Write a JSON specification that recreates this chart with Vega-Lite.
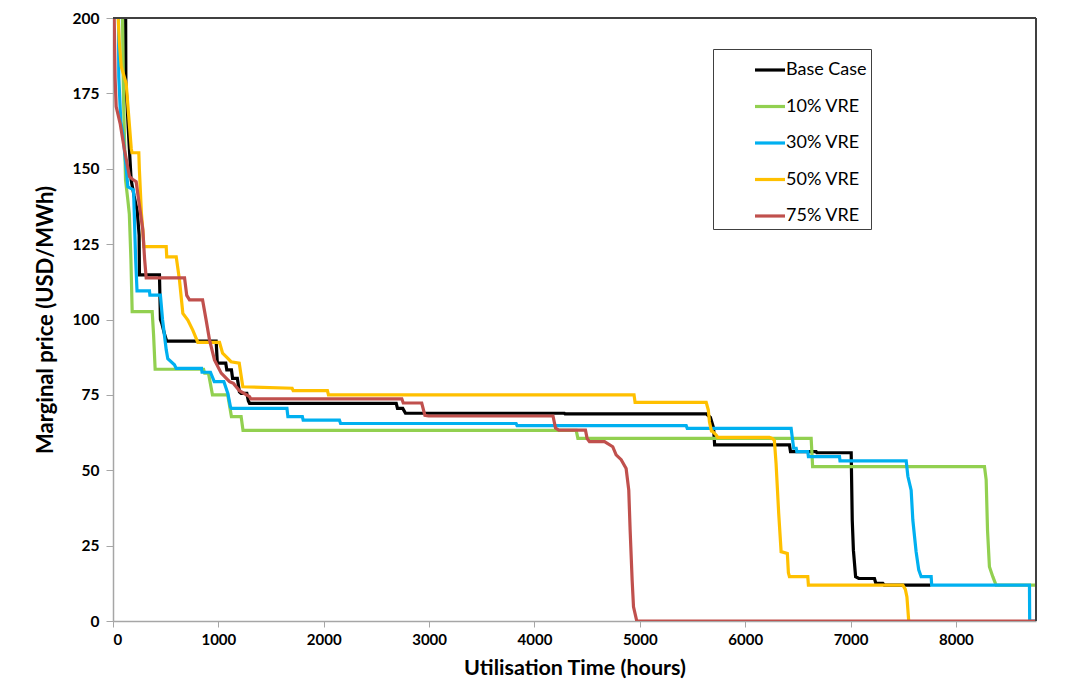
{
"$schema": "https://vega.github.io/schema/vega-lite/v6.json",
"width": 923, "height": 603,
"autosize": "none",
"padding": {"left": 113, "top": 18, "right": 30, "bottom": 63},
"background": "white",
"config": {"view": {"stroke": null}, "font": "Lato"},
"data": {"values": [
{"s":"Base Case","h":0,"p":300},{"s":"Base Case","h":120,"p":201},{"s":"Base Case","h":122,"p":179},{"s":"Base Case","h":150,"p":160},{"s":"Base Case","h":172,"p":146.3},{"s":"Base Case","h":200,"p":141},{"s":"Base Case","h":230,"p":136},{"s":"Base Case","h":248,"p":128},{"s":"Base Case","h":251,"p":114.8},{"s":"Base Case","h":441,"p":114.8},{"s":"Base Case","h":450,"p":100},{"s":"Base Case","h":465,"p":98.5},{"s":"Base Case","h":490,"p":95},{"s":"Base Case","h":510,"p":92.8},{"s":"Base Case","h":979,"p":92.8},{"s":"Base Case","h":990,"p":85.5},{"s":"Base Case","h":1070,"p":85.5},{"s":"Base Case","h":1080,"p":83.3},{"s":"Base Case","h":1124,"p":83.3},{"s":"Base Case","h":1135,"p":80.5},{"s":"Base Case","h":1180,"p":80.5},{"s":"Base Case","h":1200,"p":76},{"s":"Base Case","h":1216,"p":75.5},{"s":"Base Case","h":1270,"p":75.5},{"s":"Base Case","h":1285,"p":73},{"s":"Base Case","h":1296,"p":72.2},{"s":"Base Case","h":2688,"p":72.2},{"s":"Base Case","h":2700,"p":70.5},{"s":"Base Case","h":2750,"p":70.5},{"s":"Base Case","h":2776,"p":68.9},{"s":"Base Case","h":4284,"p":68.9},{"s":"Base Case","h":4290,"p":68.7},{"s":"Base Case","h":5630,"p":68.7},{"s":"Base Case","h":5670,"p":67.5},{"s":"Base Case","h":5700,"p":64},{"s":"Base Case","h":5710,"p":58.4},{"s":"Base Case","h":6420,"p":58.4},{"s":"Base Case","h":6430,"p":56.2},{"s":"Base Case","h":6673,"p":56.2},{"s":"Base Case","h":6680,"p":55.8},{"s":"Base Case","h":7006,"p":55.8},{"s":"Base Case","h":7016,"p":33.5},{"s":"Base Case","h":7027,"p":23.5},{"s":"Base Case","h":7048,"p":14.7},{"s":"Base Case","h":7078,"p":14.1},{"s":"Base Case","h":7227,"p":14.1},{"s":"Base Case","h":7240,"p":12.5},{"s":"Base Case","h":7306,"p":12.5},{"s":"Base Case","h":7320,"p":11.9},{"s":"Base Case","h":7760,"p":11.9},
{"s":"10% VRE","h":0,"p":300},{"s":"10% VRE","h":90,"p":201},{"s":"10% VRE","h":97,"p":180},{"s":"10% VRE","h":100,"p":172.8},{"s":"10% VRE","h":119,"p":146.3},{"s":"10% VRE","h":141,"p":139.6},{"s":"10% VRE","h":155,"p":135},{"s":"10% VRE","h":170,"p":120},{"s":"10% VRE","h":182,"p":102.6},{"s":"10% VRE","h":372,"p":102.6},{"s":"10% VRE","h":385,"p":95},{"s":"10% VRE","h":400,"p":83.5},{"s":"10% VRE","h":860,"p":83.5},{"s":"10% VRE","h":870,"p":82.2},{"s":"10% VRE","h":906,"p":82.2},{"s":"10% VRE","h":944,"p":75},{"s":"10% VRE","h":1089,"p":75},{"s":"10% VRE","h":1124,"p":67.8},{"s":"10% VRE","h":1216,"p":67.8},{"s":"10% VRE","h":1234,"p":63.2},{"s":"10% VRE","h":4396,"p":63.2},{"s":"10% VRE","h":4412,"p":60.6},{"s":"10% VRE","h":6626,"p":60.6},{"s":"10% VRE","h":6640,"p":51.2},{"s":"10% VRE","h":8271,"p":51.2},{"s":"10% VRE","h":8287,"p":46.8},{"s":"10% VRE","h":8300,"p":30},{"s":"10% VRE","h":8318,"p":18},{"s":"10% VRE","h":8350,"p":14.7},{"s":"10% VRE","h":8381,"p":11.9},{"s":"10% VRE","h":8760,"p":11.9},
{"s":"30% VRE","h":0,"p":300},{"s":"30% VRE","h":52,"p":201},{"s":"30% VRE","h":55,"p":180.5},{"s":"30% VRE","h":74,"p":165.6},{"s":"30% VRE","h":93,"p":161.8},{"s":"30% VRE","h":122,"p":151.2},{"s":"30% VRE","h":141,"p":144},{"s":"30% VRE","h":195,"p":143},{"s":"30% VRE","h":215,"p":120},{"s":"30% VRE","h":228,"p":109.5},{"s":"30% VRE","h":346,"p":109.5},{"s":"30% VRE","h":350,"p":108.1},{"s":"30% VRE","h":450,"p":108.1},{"s":"30% VRE","h":470,"p":100},{"s":"30% VRE","h":505,"p":90},{"s":"30% VRE","h":520,"p":87},{"s":"30% VRE","h":583,"p":85},{"s":"30% VRE","h":600,"p":83.8},{"s":"30% VRE","h":840,"p":83.8},{"s":"30% VRE","h":845,"p":82.5},{"s":"30% VRE","h":925,"p":82.5},{"s":"30% VRE","h":961,"p":79.4},{"s":"30% VRE","h":1052,"p":79.4},{"s":"30% VRE","h":1090,"p":75.5},{"s":"30% VRE","h":1115,"p":71},{"s":"30% VRE","h":1124,"p":70.5},{"s":"30% VRE","h":1651,"p":70.5},{"s":"30% VRE","h":1660,"p":67.8},{"s":"30% VRE","h":1797,"p":67.8},{"s":"30% VRE","h":1805,"p":66.6},{"s":"30% VRE","h":2149,"p":66.6},{"s":"30% VRE","h":2160,"p":65.5},{"s":"30% VRE","h":3826,"p":65.5},{"s":"30% VRE","h":3835,"p":64.8},{"s":"30% VRE","h":5440,"p":64.8},{"s":"30% VRE","h":5450,"p":63.9},{"s":"30% VRE","h":6436,"p":63.9},{"s":"30% VRE","h":6450,"p":60},{"s":"30% VRE","h":6460,"p":57.3},{"s":"30% VRE","h":6484,"p":57.3},{"s":"30% VRE","h":6490,"p":56.2},{"s":"30% VRE","h":6594,"p":56.2},{"s":"30% VRE","h":6600,"p":54.5},{"s":"30% VRE","h":6895,"p":54.5},{"s":"30% VRE","h":6900,"p":53.1},{"s":"30% VRE","h":7528,"p":53.1},{"s":"30% VRE","h":7544,"p":48},{"s":"30% VRE","h":7575,"p":43.4},{"s":"30% VRE","h":7591,"p":33.5},{"s":"30% VRE","h":7622,"p":23},{"s":"30% VRE","h":7647,"p":17},{"s":"30% VRE","h":7670,"p":14.7},{"s":"30% VRE","h":7765,"p":14.7},{"s":"30% VRE","h":7770,"p":11.9},{"s":"30% VRE","h":8698,"p":11.9},{"s":"30% VRE","h":8700,"p":0},{"s":"30% VRE","h":8760,"p":0},
{"s":"50% VRE","h":0,"p":300},{"s":"50% VRE","h":48,"p":201},{"s":"50% VRE","h":60,"p":192},{"s":"50% VRE","h":78,"p":183.9},{"s":"50% VRE","h":125,"p":178.3},{"s":"50% VRE","h":157,"p":164},{"s":"50% VRE","h":173,"p":156.8},{"s":"50% VRE","h":180,"p":155.3},{"s":"50% VRE","h":245,"p":155.3},{"s":"50% VRE","h":250,"p":150},{"s":"50% VRE","h":270,"p":135},{"s":"50% VRE","h":283,"p":129.7},{"s":"50% VRE","h":293,"p":124.2},{"s":"50% VRE","h":505,"p":124.2},{"s":"50% VRE","h":510,"p":120.8},{"s":"50% VRE","h":600,"p":120.8},{"s":"50% VRE","h":631,"p":113.1},{"s":"50% VRE","h":663,"p":102},{"s":"50% VRE","h":710,"p":99.8},{"s":"50% VRE","h":757,"p":96.5},{"s":"50% VRE","h":805,"p":92.4},{"s":"50% VRE","h":1011,"p":92.4},{"s":"50% VRE","h":1040,"p":88.8},{"s":"50% VRE","h":1090,"p":87.1},{"s":"50% VRE","h":1120,"p":86},{"s":"50% VRE","h":1198,"p":85.5},{"s":"50% VRE","h":1232,"p":77.7},{"s":"50% VRE","h":1700,"p":77.2},{"s":"50% VRE","h":1710,"p":76.4},{"s":"50% VRE","h":2035,"p":76.4},{"s":"50% VRE","h":2045,"p":75},{"s":"50% VRE","h":4945,"p":75},{"s":"50% VRE","h":4955,"p":72.5},{"s":"50% VRE","h":5630,"p":72.5},{"s":"50% VRE","h":5650,"p":70},{"s":"50% VRE","h":5661,"p":66},{"s":"50% VRE","h":5680,"p":63},{"s":"50% VRE","h":5692,"p":62.8},{"s":"50% VRE","h":5724,"p":61.7},{"s":"50% VRE","h":5740,"p":60.9},{"s":"50% VRE","h":6230,"p":60.9},{"s":"50% VRE","h":6260,"p":60.5},{"s":"50% VRE","h":6277,"p":59.9},{"s":"50% VRE","h":6293,"p":52.3},{"s":"50% VRE","h":6318,"p":35.7},{"s":"50% VRE","h":6341,"p":23},{"s":"50% VRE","h":6400,"p":22.4},{"s":"50% VRE","h":6410,"p":16},{"s":"50% VRE","h":6420,"p":14.7},{"s":"50% VRE","h":6594,"p":14.7},{"s":"50% VRE","h":6600,"p":11.9},{"s":"50% VRE","h":7496,"p":11.9},{"s":"50% VRE","h":7520,"p":10.5},{"s":"50% VRE","h":7535,"p":8},{"s":"50% VRE","h":7552,"p":0},
{"s":"75% VRE","h":0,"p":300},{"s":"75% VRE","h":11,"p":201},{"s":"75% VRE","h":20,"p":180},{"s":"75% VRE","h":30,"p":170.6},{"s":"75% VRE","h":68,"p":165},{"s":"75% VRE","h":109,"p":156.2},{"s":"75% VRE","h":157,"p":147.4},{"s":"75% VRE","h":185,"p":146.5},{"s":"75% VRE","h":220,"p":145.7},{"s":"75% VRE","h":250,"p":138},{"s":"75% VRE","h":283,"p":129.7},{"s":"75% VRE","h":300,"p":120},{"s":"75% VRE","h":315,"p":113.8},{"s":"75% VRE","h":679,"p":113.8},{"s":"75% VRE","h":700,"p":108},{"s":"75% VRE","h":726,"p":106.5},{"s":"75% VRE","h":850,"p":106.5},{"s":"75% VRE","h":884,"p":99.8},{"s":"75% VRE","h":916,"p":93.2},{"s":"75% VRE","h":963,"p":86.6},{"s":"75% VRE","h":1027,"p":82.2},{"s":"75% VRE","h":1106,"p":79.4},{"s":"75% VRE","h":1143,"p":78.8},{"s":"75% VRE","h":1200,"p":76.4},{"s":"75% VRE","h":1296,"p":74.4},{"s":"75% VRE","h":1307,"p":73.7},{"s":"75% VRE","h":2741,"p":73.7},{"s":"75% VRE","h":2755,"p":72.3},{"s":"75% VRE","h":2930,"p":72.3},{"s":"75% VRE","h":2960,"p":68.2},{"s":"75% VRE","h":2995,"p":68},{"s":"75% VRE","h":4176,"p":68},{"s":"75% VRE","h":4200,"p":64},{"s":"75% VRE","h":4231,"p":63.3},{"s":"75% VRE","h":4484,"p":63.3},{"s":"75% VRE","h":4500,"p":60.5},{"s":"75% VRE","h":4522,"p":59.5},{"s":"75% VRE","h":4665,"p":59.5},{"s":"75% VRE","h":4743,"p":57.8},{"s":"75% VRE","h":4775,"p":55.1},{"s":"75% VRE","h":4823,"p":53.5},{"s":"75% VRE","h":4870,"p":50.6},{"s":"75% VRE","h":4895,"p":43.4},{"s":"75% VRE","h":4908,"p":30.2},{"s":"75% VRE","h":4927,"p":13.6},{"s":"75% VRE","h":4940,"p":4.7},{"s":"75% VRE","h":4971,"p":0},{"s":"75% VRE","h":8760,"p":0}
]},
"encoding": {
  "x": {"field": "h", "type": "quantitative",
        "scale": {"domain": [0, 8760], "nice": false},
        "axis": {"title": "Utilisation Time (hours)", "values": [0,1000,2000,3000,4000,5000,6000,7000,8000], "format": "d",
                 "grid": false, "labelFont": "Lato", "labelFontWeight": "bold", "labelFontSize": 15, "labelColor": "#000",
                 "labelPadding": 5, "tickSize": 6, "tickColor": "#A6A6A6", "domainColor": "#A6A6A6", "domainWidth": 1.5,
                 "titleFont": "Lato", "titleFontSize": 21.5, "titleFontWeight": "bold", "titleColor": "#000", "titlePadding": 10}},
  "y": {"field": "p", "type": "quantitative",
        "scale": {"domain": [0, 200], "nice": false},
        "axis": {"title": "Marginal price (USD/MWh)", "values": [0,25,50,75,100,125,150,175,200],
                 "grid": false, "labelFont": "Lato", "labelFontWeight": "bold", "labelFontSize": 15.5, "labelColor": "#000",
                 "labelPadding": 7, "tickSize": 7, "tickColor": "#A6A6A6", "domainColor": "#A6A6A6", "domainWidth": 1.5,
                 "titleFont": "Lato", "titleFontSize": 22, "titleFontWeight": "bold", "titleColor": "#000", "titlePadding": 15}},
  "color": {"field": "s", "type": "nominal",
            "scale": {"domain": ["Base Case","10% VRE","30% VRE","50% VRE","75% VRE"], "range": ["#000000","#92D050","#00B0F0","#FFC000","#C0504D"]},
            "legend": {"title": null, "orient": "none", "legendX": 600, "legendY": 31, "direction": "vertical",
                       "strokeColor": "#404040", "fillColor": "white", "padding": 4,
                       "symbolType": "stroke", "symbolSize": 900, "symbolStrokeWidth": 3.2, "symbolOffset": 36,
                       "labelOffset": -1, "labelFont": "Lato", "labelFontSize": 18, "labelColor": "#000", "rowPadding": 10.5,
                       "labelExpr": "datum.label + '\u2003\u2003'"}}
},
"layer": [
  {"transform": [{"filter": "datum.s === 'Base Case'"}], "mark": {"type": "line", "strokeWidth": 3.2, "clip": true}},
  {"transform": [{"filter": "datum.s === '10% VRE'"}], "mark": {"type": "line", "strokeWidth": 3.2, "clip": true}},
  {"transform": [{"filter": "datum.s === '30% VRE'"}], "mark": {"type": "line", "strokeWidth": 3.2, "clip": true}},
  {"transform": [{"filter": "datum.s === '50% VRE'"}], "mark": {"type": "line", "strokeWidth": 3.2, "clip": true}},
  {"transform": [{"filter": "datum.s === '75% VRE'"}], "mark": {"type": "line", "strokeWidth": 3.2, "clip": true}},
  {"data": {"values": [{"t": 200}]}, "mark": {"type": "rule", "color": "#404040", "strokeWidth": 2}, "encoding": {"x": null, "color": null, "y": {"field": "t", "type": "quantitative"}}},
  {"data": {"values": [{"t": 8760}]}, "mark": {"type": "rule", "color": "#404040", "strokeWidth": 2}, "encoding": {"y": null, "color": null, "x": {"field": "t", "type": "quantitative"}}}
]
}
